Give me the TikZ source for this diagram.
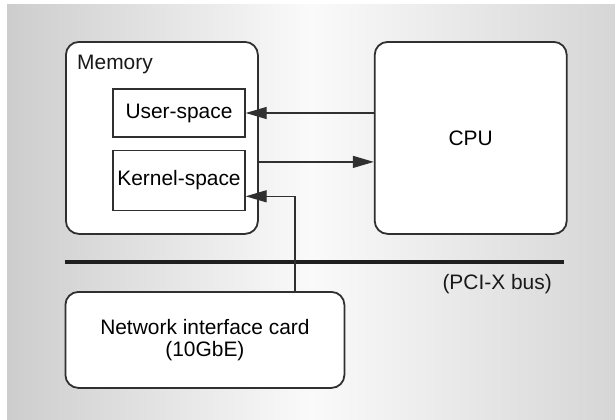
\documentclass[tikz,border=0pt]{standalone}
\usepackage{fontspec}
\setmainfont{Liberation Sans}
\usetikzlibrary{arrows.meta,positioning}
\definecolor{linegray}{RGB}{48,48,48}
\definecolor{bgleft}{RGB}{205,205,205}
\definecolor{bgright}{RGB}{214,214,214}
\definecolor{bgmid}{RGB}{250,250,250}
\tikzset{
  unit/.style={rectangle, rounded corners=13bp, draw=linegray, fill=white,
               line width=1.8bp, minimum width=192bp, minimum height=192bp,
               align=center, font=\fontsize{21}{22}\selectfont},
  region/.style={rectangle, draw=linegray, fill=white, line width=1.3bp,
                 minimum width=132bp, inner sep=0pt, align=center,
                 font=\fontsize{21}{22}\selectfont},
  caption/.style={inner sep=0pt, text=black!90, font=\fontsize{21}{22}\selectfont},
  arrow/.style={-{Triangle[length=21bp,width=12bp]}, line width=1.3bp, draw=linegray},
  bus/.style={line width=3.4bp, draw=black!88}
}
\begin{document}
\begin{tikzpicture}[x=1bp, y=-1bp, node distance=12bp and 115bp]
\useasboundingbox (0,0) rectangle (615,419);
\fill[white] (0,0) rectangle (615,419);
\shade[left color=bgleft, right color=bgright, middle color=bgmid] (7,4) rectangle (615,419);

\node[unit, anchor=north west] (memory) at (65,41) {};
\node[unit, right=of memory] (cpu) {CPU};
\node[caption, anchor=north west] (memlabel) at (77,55) {Memory};
\node[region, minimum height=48bp] (user) at (179,113) {User-space};
\node[region, minimum height=60bp, below=of user] (kernel) {Kernel-space};
\node[unit, anchor=north west, minimum width=279bp, minimum height=96bp] (nic) at (64.5,291)
  {Network interface card\\(10GbE)};

% PCI-X bus
\coordinate (busL) at (65,262);
\coordinate (busR) at (564,262);
\draw[bus] (busL) -- (busR);
\node[caption, anchor=north east] (buslabel) at (552,274) {(PCI-X bus)};

\draw[arrow] (cpu.west |- user.east) -- (user.east);
\draw[arrow] ([yshift=-24bp]memory.east) -- ([yshift=-24bp]cpu.west);
\draw[arrow] ([xshift=230.5bp]nic.north west) |- ([yshift=-16bp]kernel.east);
\end{tikzpicture}
\end{document}
